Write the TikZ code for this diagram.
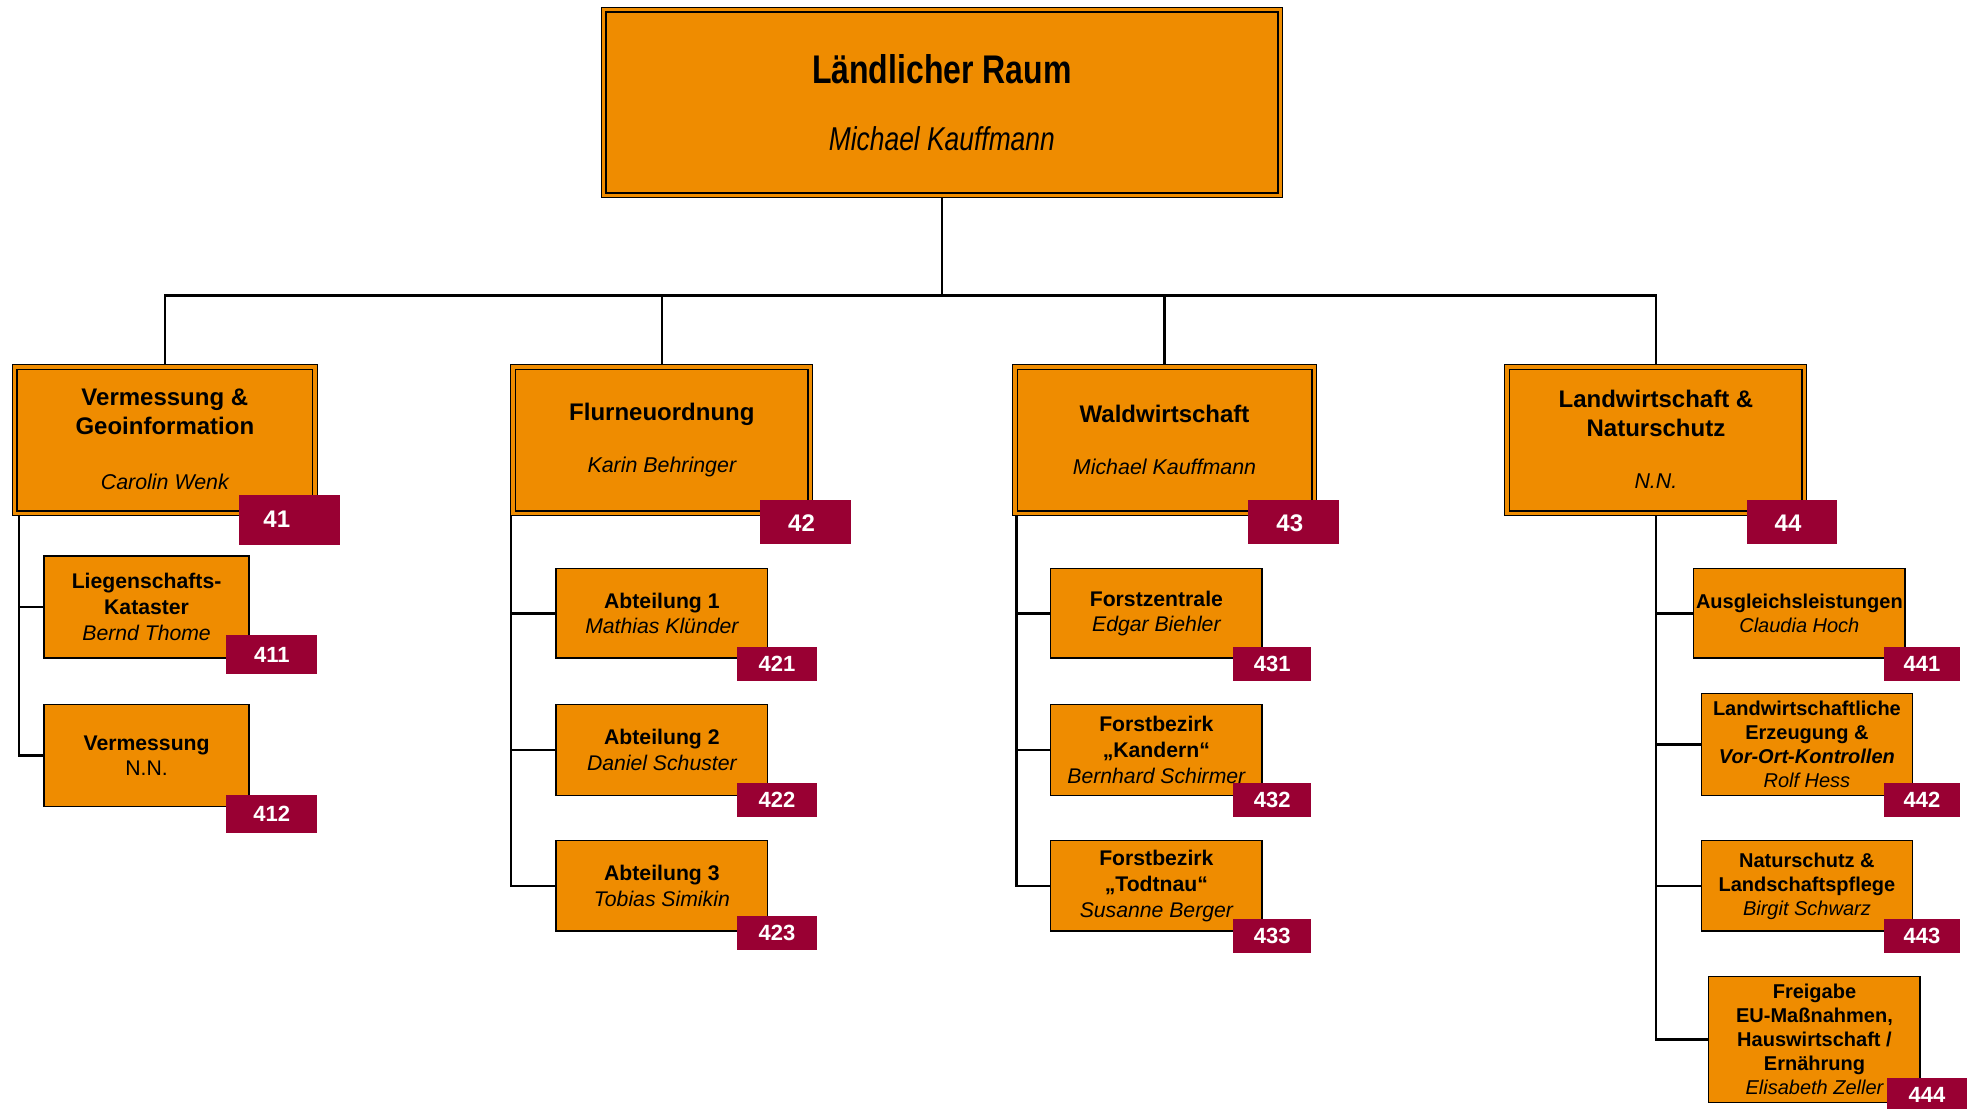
\documentclass[tikz,border=0pt]{standalone}
\usepackage{fontspec}
\setmainfont{Liberation Sans}
\definecolor{boxorange}{RGB}{239,140,0}
\definecolor{badgered}{RGB}{153,0,51}
\newcommand{\unitpx}{0.62915pt}
\newcommand{\persname}[1]{{\mdseries\itshape #1}}
\begin{document}
\begin{tikzpicture}[x=0.62915pt,y=-0.62915pt,
  boxsize/.style 2 args={minimum width=#1*\unitpx, minimum height=#2*\unitpx},
  bigbox/.style={draw=black, line width=0.5pt, fill=boxorange, inner sep=0pt},
  innerline/.style={draw=black, line width=0.9pt},
  subbox/.style={draw=black, line width=0.7pt, fill=boxorange, inner sep=0pt, align=center,
    font=\bfseries\fontsize{10.6}{12.9}\selectfont},
  subboxd/.style={subbox, font=\bfseries\fontsize{10}{12}\selectfont},
  l2title/.style={inner sep=0pt, align=center, font=\bfseries\fontsize{12}{14.5}\selectfont},
  l2name/.style={inner sep=0pt, font=\itshape\fontsize{10.7}{13}\selectfont},
  badge/.style={fill=badgered, draw=none, inner sep=0pt},
  badgetext/.style={inner sep=0pt, text=white, font=\bfseries\fontsize{12}{14}\selectfont},
  subbadge/.style={badge, text=white, font=\bfseries\fontsize{11}{13}\selectfont},
  conn/.style={draw=black, line width=1.25pt}
]
\path[fill=white] (0,0) rectangle (1568,881);
\useasboundingbox (0,0) rectangle (1568,881);

% top box
\node[bigbox, boxsize={541}{151}] (top) at (748.5,81.5) {};
\draw[innerline] ([shift={(4,4)}]top.north west) rectangle ([shift={(-4,-4)}]top.south east);
\node[inner sep=0pt, font=\bfseries\fontsize{20}{24}\selectfont] (toptitle) at (748.5,55) {\scalebox{0.8}[1]{Ländlicher Raum}};
\node[inner sep=0pt, font=\fontsize{16.5}{20}\selectfont] (topname) at (748.5,110) {\scalebox{0.8}[1]{\itshape Michael Kauffmann}};

% level 2 boxes
\node[bigbox, boxsize={242}{120}] (b41) at (131,350) {};
\node[bigbox, boxsize={240}{120}] (b42) at (526,350) {};
\node[bigbox, boxsize={241}{120}] (b43) at (925.5,350) {};
\node[bigbox, boxsize={240}{120}] (b44) at (1316,350) {};
\foreach \b in {b41,b42,b43,b44}{
  \draw[innerline] ([shift={(4,4)}]\b.north west) rectangle ([shift={(-4,-4)}]\b.south east);
}
\node[l2title] (b41t) at (131,327.5) {Vermessung \&\\Geoinformation};
\node[l2name] (b41n) at (131,383) {Carolin Wenk};
\node[l2title] (b42t) at (526,329) {Flurneuordnung};
\node[l2name] (b42n) at (526,371) {Karin Behringer};
\node[l2title] (b43t) at (925.5,329) {Waldwirtschaft};
\node[l2name] (b43n) at (925.5,371) {Michael Kauffmann};
\node[l2title] (b44t) at (1316,328.5) {Landwirtschaft \&\\Naturschutz};
\node[l2name] (b44n) at (1316,382) {N.N.};

% sub boxes
\node[subbox, boxsize={163}{81}] (b411) at (116.5,482.5) {Liegenschafts-\\Kataster\\\persname{Bernd Thome}};
\node[subbox, boxsize={163}{81}] (b412) at (116.5,600.5) {Vermessung\\{\mdseries N.N.}};
\node[subbox, boxsize={168}{71}] (b421) at (526,487.5) {Abteilung 1\\\persname{Mathias Klünder}};
\node[subbox, boxsize={168}{72}] (b422) at (526,596) {Abteilung 2\\\persname{Daniel Schuster}};
\node[subbox, boxsize={168}{72}] (b423) at (526,704) {Abteilung 3\\\persname{Tobias Simikin}};
\node[subbox, boxsize={168}{71}] (b431) at (919,487.5) {Forstzentrale\\\persname{Edgar Biehler}};
\node[subbox, boxsize={168}{72}] (b432) at (919,596) {Forstbezirk\\„Kandern“\\\persname{Bernhard Schirmer}};
\node[subbox, boxsize={168}{72}] (b433) at (919,704) {Forstbezirk\\„Todtnau“\\\persname{Susanne Berger}};
\node[subboxd, boxsize={168}{71}] (b441) at (1430,487.5) {Ausgleichsleistungen\\\persname{Claudia Hoch}};
\node[subboxd, boxsize={168}{81}] (b442) at (1436,591.5) {Landwirtschaftliche\\Erzeugung \&\\\textit{Vor-Ort-Kontrollen}\\\persname{Rolf Hess}};
\node[subboxd, boxsize={168}{72}] (b443) at (1436,704) {Naturschutz \&\\Landschaftspflege\\\persname{Birgit Schwarz}};
\node[subboxd, boxsize={168}{100}] (b444) at (1442,826) {Freigabe\\EU-Maßnahmen,\\Hauswirtschaft /\\Ernährung\\\persname{Elisabeth Zeller}};

% connectors
\coordinate (bus) at (748.5,235);
\draw[conn] (top.south) -- (bus);
\draw[conn] (b41.north) -- (b41.north |- bus) -- (b44.north |- bus) -- (b44.north);
\draw[conn] (b42.north) -- (b42.north |- bus);
\draw[conn] (b43.north) -- (b43.north |- bus);

\coordinate (c41) at (15,410);
\draw[conn] (c41) |- (b412.west);
\draw[conn] (c41 |- b411.west) -- (b411.west);

\coordinate (c42) at (406,410);
\draw[conn] (c42) |- (b423.west);
\draw[conn] (c42 |- b421.west) -- (b421.west);
\draw[conn] (c42 |- b422.west) -- (b422.west);

\coordinate (c43) at (808,410);
\draw[conn] (c43) |- (b433.west);
\draw[conn] (c43 |- b431.west) -- (b431.west);
\draw[conn] (c43 |- b432.west) -- (b432.west);

\coordinate (c44) at (1316,410);
\draw[conn] (c44) |- (b444.west);
\draw[conn] (c44 |- b441.west) -- (b441.west);
\draw[conn] (c44 |- b442.west) -- (b442.west);
\draw[conn] (c44 |- b443.west) -- (b443.west);

% level 2 badges
\node[badge, boxsize={80}{40}] (g41) at (230,413) {};
\node[badgetext] (g41t) at (220,413) {41};
\node[badge, boxsize={72}{35}] (g42) at (640,414.5) {};
\node[badgetext] (g42t) at (637,416) {42};
\node[badge, boxsize={72}{35}] (g43) at (1028,414.5) {};
\node[badgetext] (g43t) at (1025,416) {43};
\node[badge, boxsize={72}{35}] (g44) at (1424,414.5) {};
\node[badgetext] (g44t) at (1421,416) {44};

% sub badges
\node[subbadge, boxsize={72}{31}] (g411) at (216,520.5) {411};
\node[subbadge, boxsize={72}{30}] (g412) at (216,647) {412};
\node[subbadge, boxsize={63}{27}] (g421) at (617.5,527.5) {421};
\node[subbadge, boxsize={63}{27}] (g422) at (617.5,635.5) {422};
\node[subbadge, boxsize={63}{27}] (g423) at (617.5,741.5) {423};
\node[subbadge, boxsize={62}{27}] (g431) at (1011,527.5) {431};
\node[subbadge, boxsize={62}{27}] (g432) at (1011,635.5) {432};
\node[subbadge, boxsize={62}{27}] (g433) at (1011,743.5) {433};
\node[subbadge, boxsize={61}{27}] (g441) at (1527.5,527.5) {441};
\node[subbadge, boxsize={61}{27}] (g442) at (1527.5,635.5) {442};
\node[subbadge, boxsize={61}{27}] (g443) at (1527.5,743.5) {443};
\node[subbadge, boxsize={63}{27}] (g444) at (1531.5,870) {444};
\end{tikzpicture}
\end{document}
